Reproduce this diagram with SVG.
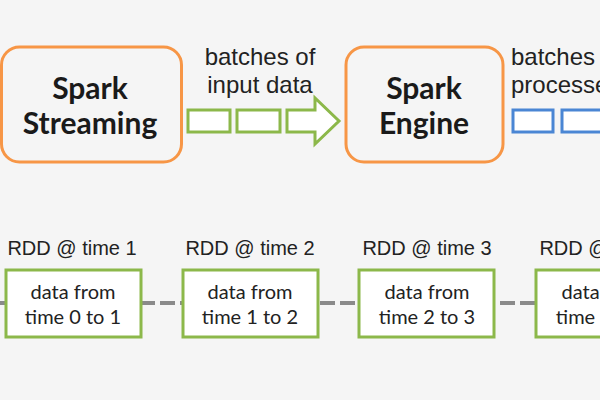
<svg xmlns="http://www.w3.org/2000/svg" width="600" height="400" viewBox="0 0 600 400">
<style>
.bg{fill:#f5f5f5}
.spark{fill:#f5f5f5;stroke:#f79646;stroke-width:3}
.title{font-family:Lato,"Open Sans",sans-serif;font-weight:bold;font-size:30px;fill:#1a1a1a;text-anchor:middle}
.lbl{font-family:"Liberation Sans",Arial,sans-serif;font-size:24px;fill:#222}
.rddlbl{font-family:"Liberation Sans",Arial,sans-serif;font-size:20px;fill:#222;text-anchor:middle}
.gbox{fill:#fff;stroke:#8cb84a;stroke-width:3}
.bbox{fill:#fff;stroke:#4a86d4;stroke-width:3}
.rdd{fill:#fff;stroke:#8cb84a;stroke-width:3}
.rddtxt{font-family:Lato,"Open Sans",sans-serif;font-size:20px;fill:#222;text-anchor:middle}
.dash{stroke:#8a8a8a;stroke-width:4;stroke-dasharray:15 5;fill:none}
</style>
<rect class="bg" x="0" y="0" width="600" height="400"/>
<g id="connectors">
<line class="dash" x1="0" y1="303" x2="600" y2="303"/>
<polygon class="gbox" points="287,110 315,110 315,98 339,121 315,144 315,132 287,132"/>
</g>
<g id="spark-streaming">
<rect class="spark" x="1.5" y="47" width="180" height="115" rx="18"/>
<text class="title" x="90" y="99">Spark</text>
<text class="title" x="90" y="134">Streaming</text>
</g>
<g id="batches-input">
<text class="lbl" x="260" y="65" text-anchor="middle">batches of</text>
<text class="lbl" x="260" y="93" text-anchor="middle">input data</text>
<rect class="gbox" x="188" y="110" width="42" height="22"/>
<rect class="gbox" x="237" y="110" width="43" height="22"/>
</g>
<g id="spark-engine">
<rect class="spark" x="346" y="47" width="157" height="115" rx="18"/>
<text class="title" x="424" y="99">Spark</text>
<text class="title" x="424" y="134">Engine</text>
</g>
<g id="batches-processed">
<text class="lbl" x="511" y="65">batches of</text>
<text class="lbl" x="511" y="93">processed data</text>
<rect class="bbox" x="513" y="110" width="40" height="22"/>
<rect class="bbox" x="562" y="110" width="42" height="22"/>
</g>
<g id="rdd1">
<text class="rddlbl" x="72" y="255">RDD @ time 1</text>
<rect class="rdd" x="6" y="270" width="135" height="67"/>
<text class="rddtxt" x="73" y="299">data from</text>
<text class="rddtxt" x="73" y="324">time 0 to 1</text>
</g>
<g id="rdd2">
<text class="rddlbl" x="250" y="255">RDD @ time 2</text>
<rect class="rdd" x="183" y="270" width="135" height="67"/>
<text class="rddtxt" x="250" y="299">data from</text>
<text class="rddtxt" x="250" y="324">time 1 to 2</text>
</g>
<g id="rdd3">
<text class="rddlbl" x="427" y="255">RDD @ time 3</text>
<rect class="rdd" x="359" y="270" width="135" height="67"/>
<text class="rddtxt" x="427" y="299">data from</text>
<text class="rddtxt" x="427" y="324">time 2 to 3</text>
</g>
<g id="rdd4">
<text class="rddlbl" x="604" y="255">RDD @ time 4</text>
<rect class="rdd" x="536" y="270" width="135" height="67"/>
<text class="rddtxt" x="604" y="299">data from</text>
<text class="rddtxt" x="604" y="324">time 3 to 4</text>
</g>
</svg>
